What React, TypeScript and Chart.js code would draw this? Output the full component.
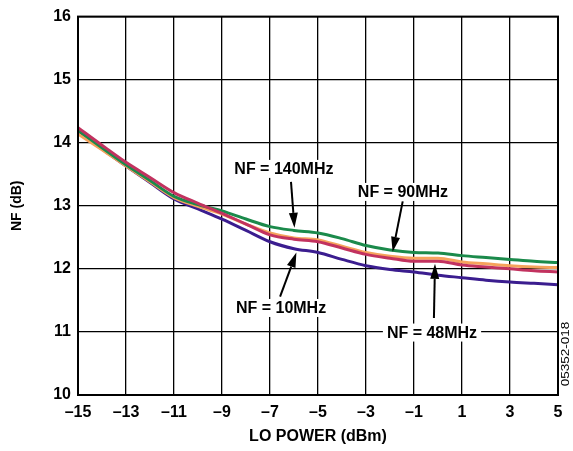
import React, { useEffect, useRef } from "react";
import { Chart, registerables } from "chart.js";

Chart.register(...registerables);

const loPower = [-15, -14, -13, -12, -11, -10, -9, -8, -7, -6, -5, -4, -3, -2, -1, 0, 1, 2, 3, 4, 5];
const nf48MHz = [14.24, 13.96, 13.69, 13.45, 13.21, 13.04, 12.88, 12.71, 12.54, 12.47, 12.43, 12.33, 12.23, 12.17, 12.12, 12.12, 12.06, 12.03, 12.0, 11.97, 11.95];
const nf140MHz = [14.2, 13.92, 13.65, 13.4, 13.15, 13.02, 12.92, 12.79, 12.67, 12.61, 12.57, 12.48, 12.37, 12.3, 12.26, 12.25, 12.21, 12.18, 12.15, 12.12, 12.1];
const nf90MHz = [14.14, 13.89, 13.63, 13.38, 13.13, 12.99, 12.87, 12.71, 12.57, 12.49, 12.46, 12.36, 12.26, 12.2, 12.17, 12.17, 12.11, 12.08, 12.05, 12.03, 12.02];
const nf10MHz = [14.18, 13.9, 13.63, 13.37, 13.11, 12.95, 12.79, 12.61, 12.43, 12.32, 12.26, 12.15, 12.05, 11.99, 11.95, 11.9, 11.86, 11.82, 11.79, 11.77, 11.75];

const xTicks = [-15, -13, -11, -9, -7, -5, -3, -1, 1, 3, 5];
const yTicks = [10, 11, 12, 13, 14, 15, 16];

const calloutTexts = ["NF = 140MHz", "NF = 90MHz", "NF = 10MHz", "NF = 48MHz"];
const figureId = "05352-018";

// callout placement in data units: label centre, arrow tail, arrow tip
const callouts = [
  { text: calloutTexts[0], lx: -6.42, ly: 13.585, tx: -6.125, ty: 13.38, hx: -5.98, hy: 12.65 },
  { text: calloutTexts[1], lx: -1.46, ly: 13.22, tx: -1.47, ty: 13.07, hx: -1.89, hy: 12.27 },
  { text: calloutTexts[2], lx: -6.54, ly: 11.38, tx: -6.58, ty: 11.56, hx: -5.9, hy: 12.26 },
  { text: calloutTexts[3], lx: -0.25, ly: 10.99, tx: -0.17, ty: 11.22, hx: -0.125, hy: 12.08 },
];

const FONT = "'Liberation Sans', Arial, sans-serif";

const annotationPlugin = {
  id: "annotations",
  afterDatasetsDraw(chart: any) {
    const { ctx, chartArea, scales } = chart;
    const xs = scales.x;
    const ys = scales.y;
    ctx.save();
    // frame
    ctx.strokeStyle = "#000";
    ctx.lineWidth = 2;
    ctx.strokeRect(chartArea.left, chartArea.top, chartArea.right - chartArea.left, chartArea.bottom - chartArea.top);

    ctx.font = `bold 16px ${FONT}`;
    ctx.textAlign = "center";
    ctx.textBaseline = "middle";
    for (const c of callouts) {
      const cx = xs.getPixelForValue(c.lx);
      const cy = ys.getPixelForValue(c.ly);
      const w = ctx.measureText(c.text).width;
      ctx.fillStyle = "#fff";
      ctx.fillRect(cx - w / 2 - 4, cy - 9, w + 8, 18);
      ctx.fillStyle = "#000";
      ctx.fillText(c.text, cx, cy + 1);

      const x1 = xs.getPixelForValue(c.tx);
      const y1 = ys.getPixelForValue(c.ty);
      const x2 = xs.getPixelForValue(c.hx);
      const y2 = ys.getPixelForValue(c.hy);
      const ang = Math.atan2(y2 - y1, x2 - x1);
      const headLen = 15;
      const headW = 4.5;
      const bx = x2 - headLen * Math.cos(ang);
      const by = y2 - headLen * Math.sin(ang);
      ctx.strokeStyle = "#000";
      ctx.lineWidth = 2;
      ctx.beginPath();
      ctx.moveTo(x1, y1);
      ctx.lineTo(bx, by);
      ctx.stroke();
      ctx.beginPath();
      ctx.moveTo(x2, y2);
      ctx.lineTo(bx + headW * Math.sin(ang), by - headW * Math.cos(ang));
      ctx.lineTo(bx - headW * Math.sin(ang), by + headW * Math.cos(ang));
      ctx.closePath();
      ctx.fillStyle = "#000";
      ctx.fill();
    }

    // figure id, rotated
    ctx.save();
    ctx.translate(chart.width - 7, ys.getPixelForValue(10.65));
    ctx.rotate(-Math.PI / 2);
    ctx.scale(1.35, 1);
    ctx.font = `10px ${FONT}`;
    ctx.fillStyle = "#000";
    ctx.textAlign = "center";
    ctx.textBaseline = "middle";
    ctx.fillText(figureId, 0, 0);
    ctx.restore();

    ctx.restore();
  },
};

export default function App() {
  const canvasRef = useRef<HTMLCanvasElement | null>(null);

  useEffect(() => {
    if (!canvasRef.current) return;
    const mk = (label: string, data: number[], color: string) => ({
      label,
      data: loPower.map((x, i) => ({ x, y: data[i] })),
      borderColor: color,
      backgroundColor: color,
      borderWidth: 3,
      pointRadius: 0,
      cubicInterpolationMode: "monotone" as const,
      fill: false,
    });
    const chart = new Chart(canvasRef.current, {
      type: "line",
      data: {
        datasets: [
          mk("48MHz", nf48MHz, "#c2325f"),
          mk("140MHz", nf140MHz, "#1b8a4b"),
          mk("90MHz", nf90MHz, "#f6a35c"),
          mk("10MHz", nf10MHz, "#3b1d8f"),
        ],
      },
      options: {
        animation: false,
        responsive: true,
        maintainAspectRatio: false,
        devicePixelRatio: 1,
        layout: { padding: { left: 0, right: 15, top: 10, bottom: 0 } },
        plugins: { legend: { display: false }, tooltip: { enabled: false } },
        scales: {
          x: {
            type: "linear",
            min: -15,
            max: 5,
            afterBuildTicks: (s: any) => {
              s.ticks = xTicks.map((v) => ({ value: v }));
            },
            afterFit: (s: any) => {
              s.height = 56;
            },
            grid: { color: "#000", lineWidth: 1.3, drawTicks: false },
            border: { display: true, color: "#000", width: 2 },
            ticks: {
              color: "#000",
              padding: 8,
              maxRotation: 0,
              autoSkip: false,
              font: { family: FONT, size: 16, weight: "bold" },
              callback: (v: any) => (Number(v) < 0 ? "\u2013" + Math.abs(Number(v)) : String(v)),
            },
            title: {
              display: true,
              text: "LO POWER (dBm)",
              color: "#000",
              font: { family: FONT, size: 16, weight: "bold" },
              padding: { top: 0, bottom: 5 },
            },
          },
          y: {
            type: "linear",
            min: 10,
            max: 16,
            afterBuildTicks: (s: any) => {
              s.ticks = yTicks.map((v) => ({ value: v }));
            },
            afterFit: (s: any) => {
              s.width = 78;
            },
            grid: { color: "#000", lineWidth: 1.3, drawTicks: false },
            border: { display: true, color: "#000", width: 2 },
            ticks: {
              color: "#000",
              padding: 7,
              autoSkip: false,
              font: { family: FONT, size: 16, weight: "bold" },
              callback: (v: any) => String(v),
            },
            title: {
              display: true,
              text: "NF (dB)",
              color: "#000",
              font: { family: FONT, size: 14, weight: "bold" },
              padding: { top: 9, bottom: 0 },
            },
          },
        },
      },
      plugins: [annotationPlugin],
    });
    return () => chart.destroy();
  }, []);

  return (
    <div style={{ position: "fixed", left: 0, top: 0, width: 573, height: 451, background: "#fff" }}>
      <canvas ref={canvasRef} />
    </div>
  );
}
